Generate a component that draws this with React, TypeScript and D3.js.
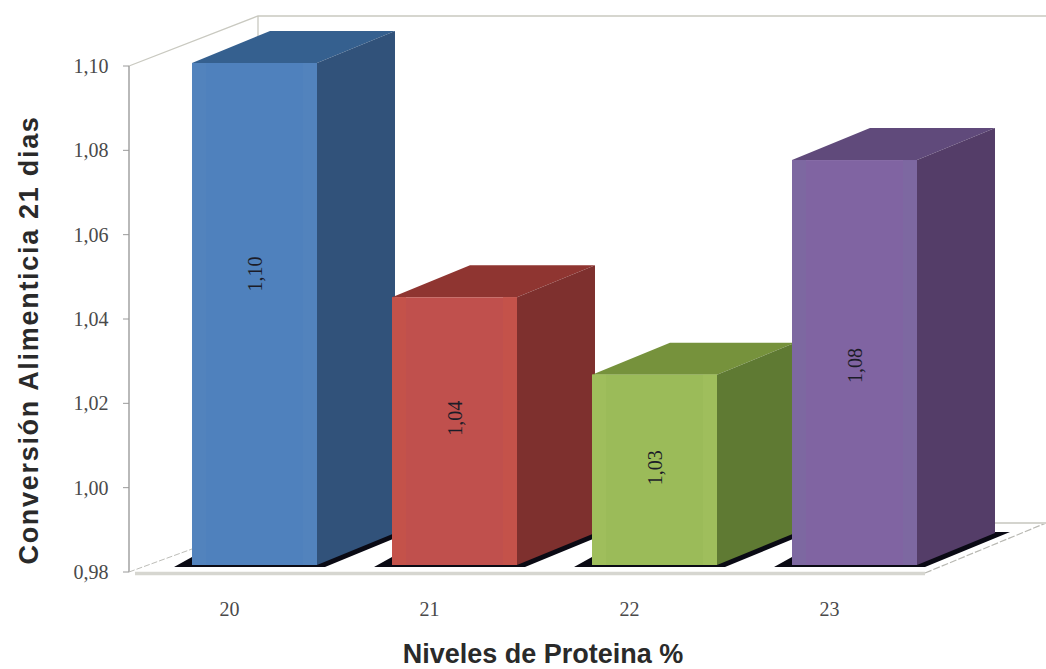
import React from "react";
import * as d3 from "d3";

// Feed conversion at 21 days by dietary protein level
const categories = ["20", "21", "22", "23"];
const conversion = [1.1, 1.044, 1.0255, 1.0768];
const axisTicks = [0.98, 1.0, 1.02, 1.04, 1.06, 1.08, 1.1];

const frontColors = ["#4f81bd", "#c0504d", "#9bbb59", "#8064a2"];
const edgeColors = ["#5283bd", "#c4524a", "#9fbe5c", "#7d68a1"];
const topColors = ["#35608f", "#8f3531", "#76923c", "#604a7b"];
const sideColors = ["#31527a", "#7e302e", "#5f7a33", "#543d68"];
const labelShift = [-40, -13, -2, 3];

const width = 1046;
const height = 669;
const depthX = 78;
const depthY = -32;
const wallLeft = 129;
const wallBase = 572;
const wallTop = 66;
const barBase = 565;
const barTop = 63;

const comma = (v: number) => d3.format(".2f")(v).replace(".", ",");
const points = (p: number[][]) => p.map((q) => q.join(",")).join(" ");

const x = d3.scaleBand<string>().domain(categories).range([192, 917]).paddingInner(0.375).paddingOuter(0);
const yAxis = d3.scaleLinear().domain([0.98, 1.1]).range([wallBase, wallTop]);
const yBar = d3.scaleLinear().domain([0.98, 1.1]).range([barBase, barTop]);

const serif = "'Liberation Serif', 'DejaVu Serif', serif";
const sans = "'Liberation Sans', Arial, sans-serif";

export default function App() {
  const floorRight = 925;
  return (
    <svg
      width={width}
      height={height}
      viewBox={`0 0 ${width} ${height}`}
      style={{ position: "absolute", left: 0, top: 0, background: "#fff" }}
    >
      {/* Back wall and side wall outline */}
      <path
        d={`M${wallLeft},${wallTop} L258,16 L${width},16 M258,16 L258,40`}
        fill="none"
        stroke="#c9c9c0"
        strokeWidth={1.3}
      />
      <path d={`M${wallLeft},${wallBase} L${wallLeft},${wallTop}`} stroke="#a8a8a8" strokeWidth={1.6} />

      {/* Tick marks on the value axis */}
      {axisTicks.map((t) => (
        <g key={t}>
          <line x1={wallLeft - 6} x2={wallLeft} y1={yAxis(t)} y2={yAxis(t)} stroke="#9a9a9a" strokeWidth={1} />
          <text
            x={91}
            y={yAxis(t) + 7}
            textAnchor="middle"
            fontFamily={serif}
            fontSize={20}
            fill="#4a4a4a"
          >
            {comma(t)}
          </text>
        </g>
      ))}

      {/* Floor edges */}
      <path d={`M${wallLeft},${wallBase} L192,549`} stroke="#bdbdb8" strokeWidth={1} strokeDasharray="6 2" />
      <path d={`M${floorRight},${wallBase + 1} L${width},523`} stroke="#b8b8b2" strokeWidth={1.2} strokeDasharray="7 2" />
      <line x1={995} x2={width} y1={523} y2={523} stroke="#d4d4ce" strokeWidth={2} />
      <line x1={135} x2={floorRight} y1={573.5} y2={573.5} stroke="#d6d6d0" strokeWidth={3.5} />

      {/* Bars: shadow, top, side and front faces */}
      {categories.map((c, i) => {
        const left = x(c)!;
        const right = left + x.bandwidth();
        const top = yBar(conversion[i]);
        return (
          <g key={c}>
            <polygon
              points={points([
                [left - 18, barBase + 2],
                [left, barBase - 8],
                [right, barBase - 8],
                [right + depthX, barBase + depthY - 1],
                [right + depthX + 15, barBase + depthY - 1],
                [right + 8, barBase + 2],
              ])}
              fill="#0a0a14"
            />
            <polygon
              points={points([
                [left, top],
                [left + depthX, top + depthY],
                [right + depthX, top + depthY],
                [right, top],
              ])}
              fill={topColors[i]}
            />
            <polygon
              points={points([
                [right, top],
                [right + depthX, top + depthY],
                [right + depthX, barBase + depthY],
                [right, barBase],
              ])}
              fill={sideColors[i]}
            />
            <rect x={left} y={top} width={x.bandwidth()} height={barBase - top} fill={frontColors[i]} />
            <rect x={left} y={top} width={14} height={barBase - top} fill={edgeColors[i]} />
            <rect x={right - 14} y={top} width={14} height={barBase - top} fill={edgeColors[i]} />
          </g>
        );
      })}

      {/* Value labels, rotated, on the front faces */}
      {categories.map((c, i) => {
        const cx = x(c)! + x.bandwidth() / 2;
        const cy = (yBar(conversion[i]) + barBase) / 2 + labelShift[i];
        return (
          <text
            key={c}
            transform={`translate(${cx + 7},${cy}) rotate(-90)`}
            textAnchor="middle"
            fontFamily={serif}
            fontSize={20}
            fill="#1c1c28"
          >
            {comma(conversion[i])}
          </text>
        );
      })}

      {/* Category labels */}
      {categories.map((c) => (
        <text
          key={c}
          x={x(c)! + x.bandwidth() / 2 - 25}
          y={616}
          textAnchor="middle"
          fontFamily={serif}
          fontSize={20}
          fill="#4a4a4a"
        >
          {c}
        </text>
      ))}

      {/* Axis titles */}
      <text
        transform="translate(38,340) rotate(-90)"
        textAnchor="middle"
        fontFamily={sans}
        fontWeight="bold"
        fontSize={27}
        letterSpacing={1.7}
        fill="#2a2a2a"
      >
        Conversión Alimenticia 21 dias
      </text>
      <text
        x={543}
        y={663}
        textAnchor="middle"
        fontFamily={sans}
        fontWeight="bold"
        fontSize={27}
        fill="#2a2a2a"
      >
        Niveles de Proteina %
      </text>
    </svg>
  );
}
